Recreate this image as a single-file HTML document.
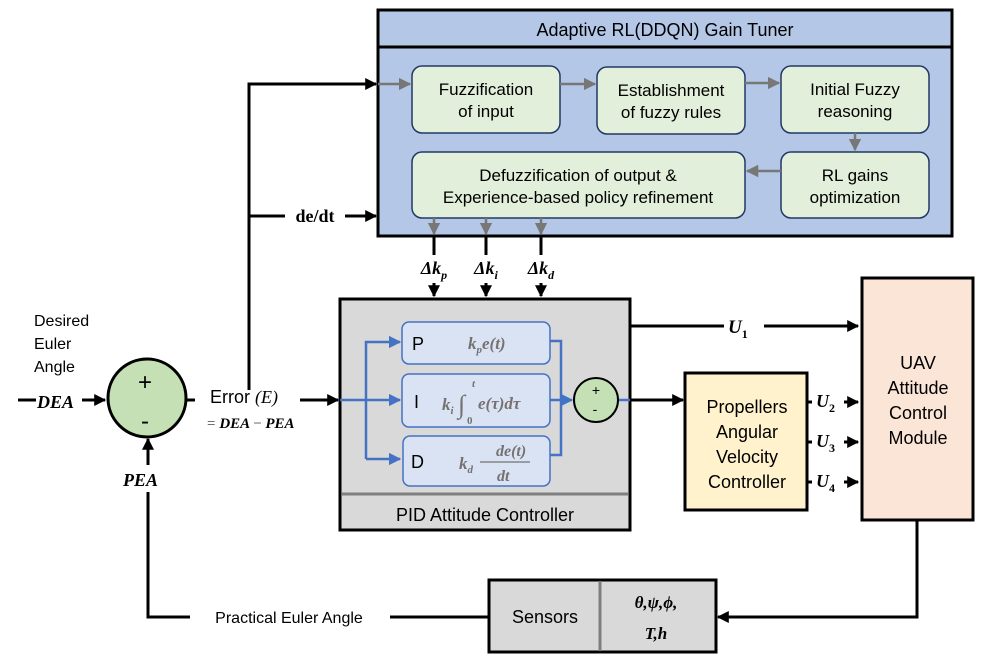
<!DOCTYPE html>
<html><head><meta charset="utf-8"><style>
body{margin:0;background:#fff;}
svg{display:block;font-family:"Liberation Sans",sans-serif;}
.m{font-family:"Liberation Serif",serif;font-weight:bold;font-style:italic;}
</style></head><body>
<svg width="996" height="671" viewBox="0 0 996 671" xmlns="http://www.w3.org/2000/svg">
<defs>
<marker id="a" viewBox="0 0 10 10" refX="9" refY="5" markerWidth="4" markerHeight="4" orient="auto"><path d="M0,0L10,5L0,10z" fill="#000"/></marker>
<marker id="g" viewBox="0 0 10 10" refX="9" refY="5" markerWidth="5" markerHeight="5" orient="auto"><path d="M0,0L10,5L0,10z" fill="#777"/></marker>
<marker id="b" viewBox="0 0 10 10" refX="9" refY="5" markerWidth="5" markerHeight="5" orient="auto"><path d="M0,0L10,5L0,10z" fill="#4472c4"/></marker>
</defs>
<rect x="378" y="10" width="574" height="226" fill="#b4c7e7" stroke="#000" stroke-width="3"/>
<line x1="378" y1="47" x2="952" y2="47" stroke="#000" stroke-width="3"/>
<text x="665" y="36" font-size="18" text-anchor="middle">Adaptive RL(DDQN) Gain Tuner</text>
<g fill="#e2efda" stroke="#203864" stroke-width="1.5">
<rect x="412" y="66" width="148" height="67" rx="10"/>
<rect x="597" y="67" width="148" height="67" rx="10"/>
<rect x="781" y="66" width="148" height="67" rx="10"/>
<rect x="412" y="152" width="333" height="66" rx="10"/>
<rect x="781" y="152" width="148" height="66" rx="10"/>
</g>
<g font-size="17" text-anchor="middle">
<text x="486" y="95">Fuzzification</text><text x="486" y="117">of input</text>
<text x="671" y="96">Establishment</text><text x="671" y="118">of fuzzy rules</text>
<text x="855" y="95">Initial Fuzzy</text><text x="855" y="117">reasoning</text>
<text x="578" y="181">Defuzzification of output &amp;</text><text x="578" y="203">Experience-based policy refinement</text>
<text x="855" y="181">RL gains</text><text x="855" y="203">optimization</text>
</g>
<g stroke="#777" stroke-width="2.5" marker-end="url(#g)">
<line x1="378" y1="84" x2="410" y2="84"/>
<line x1="560" y1="84" x2="595" y2="84"/>
<line x1="745" y1="83" x2="779" y2="83"/>
<line x1="855" y1="133" x2="855" y2="150"/>
<line x1="781" y1="171" x2="747" y2="171"/>
<line x1="434" y1="218" x2="434" y2="234"/>
<line x1="486" y1="218" x2="486" y2="234"/>
<line x1="541" y1="218" x2="541" y2="234"/>
</g>
<g stroke="#000" stroke-width="3" fill="none">
<polyline points="249,390 249,84 376,84" marker-end="url(#a)"/>
<line x1="249" y1="216" x2="376" y2="216" marker-end="url(#a)"/>
<line x1="434" y1="236" x2="434" y2="296" marker-end="url(#a)"/>
<line x1="486" y1="236" x2="486" y2="296" marker-end="url(#a)"/>
<line x1="541" y1="236" x2="541" y2="296" marker-end="url(#a)"/>
</g>
<rect x="285" y="204" width="60" height="22" fill="#fff"/>
<text class="m" x="315" y="222" font-size="18" text-anchor="middle" style="font-style:normal">de/dt</text>
<rect x="414" y="255" width="140" height="28" fill="#fff"/>
<text class="m" x="434" y="274" font-size="18" text-anchor="middle">Δk<tspan font-size="12" dy="5">p</tspan></text>
<text class="m" x="486" y="274" font-size="18" text-anchor="middle">Δk<tspan font-size="12" dy="5">i</tspan></text>
<text class="m" x="541" y="274" font-size="18" text-anchor="middle">Δk<tspan font-size="12" dy="5">d</tspan></text>
<rect x="340" y="299" width="290" height="231" fill="#d9d9d9" stroke="#000" stroke-width="3"/>
<line x1="342" y1="494" x2="628" y2="494" stroke="#7f7f7f" stroke-width="3"/>
<text x="485" y="521" font-size="18" text-anchor="middle">PID Attitude Controller</text>
<g fill="#dae3f3" stroke="#4472c4" stroke-width="1.5">
<rect x="402" y="322" width="148" height="42" rx="7"/>
<rect x="402" y="374" width="148" height="53" rx="7"/>
<rect x="403" y="436" width="147" height="50" rx="7"/>
</g>
<g stroke="#4472c4" stroke-width="2.5" fill="none">
<line x1="340" y1="400" x2="400" y2="400" marker-end="url(#b)"/>
<polyline points="366,459 366,342 400,342" marker-end="url(#b)"/>
<line x1="366" y1="459" x2="400" y2="459" marker-end="url(#b)"/>
<polyline points="550,341 561,341 561,455 550,455"/>
<line x1="550" y1="400" x2="572" y2="400" marker-end="url(#b)"/>
<line x1="618" y1="400" x2="630" y2="400"/>
</g>
<g font-size="18"><text x="412" y="350">P</text><text x="414" y="408">I</text><text x="411" y="468">D</text></g>
<g fill="#767171" font-family="Liberation Serif,serif" font-weight="bold" font-style="italic">
<text x="468" y="349" font-size="17">k<tspan font-size="11" dy="4">p</tspan><tspan dy="-4">e(t)</tspan></text>
<text x="442" y="410" font-size="17">k<tspan font-size="11" dy="4">i</tspan></text>
<text x="458" y="413" font-size="26" font-weight="normal">∫</text>
<text x="472" y="387" font-size="11">t</text><text x="467" y="424" font-size="11" font-style="normal">0</text>
<text x="478" y="409" font-size="17">e(τ)dτ</text>
<text x="459" y="469" font-size="17">k<tspan font-size="11" dy="4">d</tspan></text>
<text x="496" y="456" font-size="16">de(t)</text>
<line x1="480" y1="462" x2="530" y2="462" stroke="#767171" stroke-width="1.2"/>
<text x="497" y="481" font-size="16">dt</text>
</g>
<circle cx="596" cy="400" r="22" fill="#c5e0b4" stroke="#000" stroke-width="2"/>
<text x="596" y="395" font-size="14" text-anchor="middle">+</text>
<text x="595" y="414" font-size="14" text-anchor="middle">-</text>
<g stroke="#000" stroke-width="3" fill="none">
<line x1="630" y1="400" x2="683" y2="400" marker-end="url(#a)"/>
<line x1="630" y1="326" x2="858" y2="326" marker-end="url(#a)"/>
<line x1="807" y1="402" x2="858" y2="402" marker-end="url(#a)"/>
<line x1="807" y1="442" x2="858" y2="442" marker-end="url(#a)"/>
<line x1="807" y1="482" x2="858" y2="482" marker-end="url(#a)"/>
<polyline points="917,520 917,617 718,617" marker-end="url(#a)"/>
<polyline points="489,617 148,617 148,492"/>
<line x1="148" y1="465" x2="148" y2="439" marker-end="url(#a)"/>
<line x1="18" y1="400" x2="105" y2="400" marker-end="url(#a)"/>
<line x1="187" y1="400" x2="195" y2="400"/>
<line x1="300" y1="400" x2="338" y2="400" marker-end="url(#a)"/>
</g>
<rect x="724" y="312" width="40" height="28" fill="#fff"/>
<text class="m" x="728" y="333" font-size="19">U<tspan font-size="12" dy="5" font-style="normal">1</tspan></text>
<rect x="812" y="388" width="32" height="106" fill="#fff"/>
<text class="m" x="816" y="407" font-size="18">U<tspan font-size="12" dy="5" font-style="normal">2</tspan></text>
<text class="m" x="816" y="447" font-size="18">U<tspan font-size="12" dy="5" font-style="normal">3</tspan></text>
<text class="m" x="816" y="487" font-size="18">U<tspan font-size="12" dy="5" font-style="normal">4</tspan></text>
<rect x="685" y="373" width="122" height="137" fill="#fff2cc" stroke="#000" stroke-width="3"/>
<g font-size="18" text-anchor="middle"><text x="747" y="413">Propellers</text><text x="747" y="438">Angular</text><text x="747" y="463">Velocity</text><text x="747" y="488">Controller</text></g>
<rect x="862" y="278" width="111" height="242" fill="#fbe5d6" stroke="#000" stroke-width="3"/>
<g font-size="18" text-anchor="middle"><text x="918" y="369">UAV</text><text x="918" y="394">Attitude</text><text x="918" y="419">Control</text><text x="918" y="444">Module</text></g>
<rect x="489" y="580" width="227" height="72" fill="#d9d9d9" stroke="#000" stroke-width="3"/>
<line x1="600" y1="581" x2="600" y2="651" stroke="#7f7f7f" stroke-width="3"/>
<text x="545" y="623" font-size="18" text-anchor="middle">Sensors</text>
<text class="m" x="656" y="608" font-size="17" text-anchor="middle">θ,ψ,ϕ,</text>
<text class="m" x="656" y="639" font-size="17" text-anchor="middle">T,h</text>
<rect x="190" y="605" width="200" height="24" fill="#fff"/>
<text x="289" y="623" font-size="16" text-anchor="middle">Practical Euler Angle</text>
<circle cx="147" cy="398" r="39" fill="#c5e0b4" stroke="#000" stroke-width="3"/>
<text x="145" y="390" font-size="24" text-anchor="middle">+</text>
<text x="145" y="429" font-size="24" text-anchor="middle">-</text>
<g font-size="16"><text x="34" y="326">Desired</text><text x="34" y="349">Euler</text><text x="34" y="372">Angle</text></g>
<rect x="36" y="388" width="46" height="26" fill="#fff"/>
<text class="m" x="37" y="408" font-size="18">DEA</text>
<text class="m" x="123" y="486" font-size="18">PEA</text>
<text x="210" y="403" font-size="18">Error <tspan font-family="Liberation Serif,serif" font-style="italic">(E)</tspan></text>
<text class="m" x="207" y="428" font-size="15"><tspan fill="#767171" font-style="normal">= </tspan>DEA <tspan fill="#767171" font-style="normal">−</tspan> PEA</text>
</svg>
</body></html>
